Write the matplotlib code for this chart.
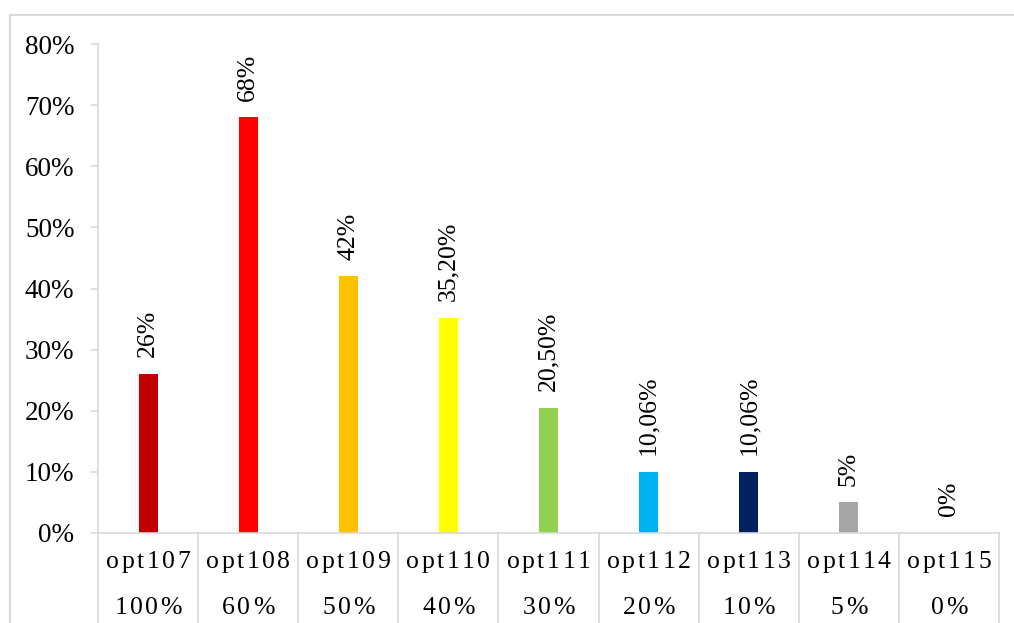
import matplotlib
matplotlib.use("Agg")
import matplotlib.pyplot as plt
from matplotlib.lines import Line2D
from matplotlib.ticker import MultipleLocator, PercentFormatter
from matplotlib.textpath import TextToPath
from matplotlib.font_manager import FontProperties

options = ["opt107", "opt108", "opt109", "opt110", "opt111",
           "opt112", "opt113", "opt114", "opt115"]
levels = ["100%", "60%", "50%", "40%", "30%", "20%", "10%", "5%", "0%"]
shares = [26, 68, 42, 35.2, 20.5, 10.06, 10.06, 5, 0]
share_labels = ["26%", "68%", "42%", "35,20%", "20,50%",
                "10,06%", "10,06%", "5%", "0%"]
bar_colors = ["#C00000", "#FF0000", "#FFC000", "#FFFF00", "#92D050",
              "#00B0F0", "#002060", "#A5A5A5", "#5B9BD5"]

plt.rcParams["font.family"] = ["Liberation Serif", "DejaVu Serif"]
GRID = "#D9D9D9"

fig = plt.figure(figsize=(10.14, 6.23), dpi=100)
ax = fig.add_axes([98 / 1014, 90 / 623, 901 / 1014, 489 / 623])

x = range(len(options))
ax.bar(x, shares, width=0.19, color=bar_colors, zorder=2)

for i, (v, lab) in enumerate(zip(shares, share_labels)):
    ax.annotate(lab, (i, v), xytext=(0, 12), textcoords="offset points",
                rotation=90, ha="center", va="bottom", fontsize=18.5)

ax.set_xlim(-0.5, len(options) - 0.5)
ax.set_ylim(0, 80)
ax.yaxis.set_major_locator(MultipleLocator(10))
ax.yaxis.set_major_formatter(PercentFormatter(decimals=0))
ax.tick_params(axis="y", length=5, width=1.2, color=GRID, pad=12,
               labelsize=19.5)
ax.tick_params(axis="x", length=0, labelbottom=False)

for side in ("top", "right"):
    ax.spines[side].set_visible(False)
for side in ("left", "bottom"):
    ax.spines[side].set_color(GRID)
    ax.spines[side].set_linewidth(1.2)

# category separators running down through both label rows
xt = ax.get_xaxis_transform()
for b in range(len(options) + 1):
    ax.plot([b - 0.5, b - 0.5], [0, -0.2], color=GRID, lw=1.2,
            transform=xt, clip_on=False)

# two-row category labels with letter spacing
t2p = TextToPath()
prop = FontProperties(family="Liberation Serif", size=18.5)


def spaced(xc, yc, s, gap=1.8):
    widths = [t2p.get_text_width_height_descent(c, prop, ismath=False)[0]
              for c in s]
    total = sum(widths) + gap * (len(s) - 1)
    pos = -total / 2
    for c, w in zip(s, widths):
        ax.annotate(c, (xc, yc), xycoords=xt, xytext=(pos, 0),
                    textcoords="offset points", ha="left", va="center",
                    fontproperties=prop, annotation_clip=False)
        pos += w + gap


for i, (o, lv) in enumerate(zip(options, levels)):
    spaced(i, -29 / 489, o)
    spaced(i, -75 / 489, lv)

# chart frame
fig.add_artist(Line2D([10 / 1014, 1], [1 - 15 / 623] * 2,
                      transform=fig.transFigure, color=GRID, lw=1.5))
fig.add_artist(Line2D([10 / 1014] * 2, [0, 1 - 15 / 623],
                      transform=fig.transFigure, color=GRID, lw=1.5))

fig.savefig("out.png", dpi=100)
